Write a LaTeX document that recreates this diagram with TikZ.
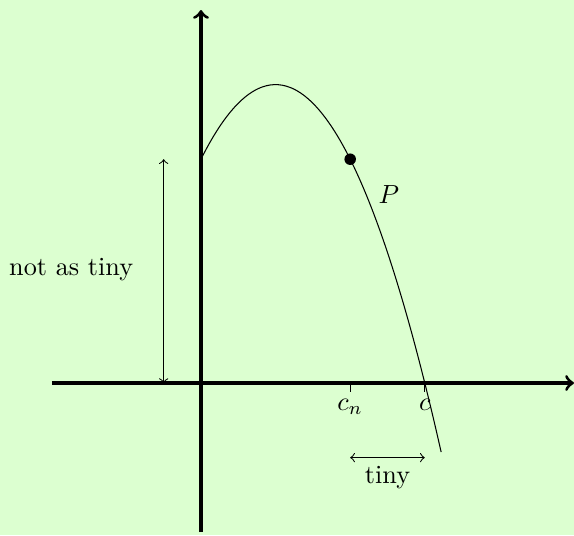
\documentclass[tikz,border=0pt]{standalone}
\definecolor{bgg}{RGB}{220,255,208}
\begin{document}
\begin{tikzpicture}[
  axis/.style={very thick,->},
  dimarrow/.style={<->},
  tick/.style={thin}
]
\useasboundingbox[fill=bgg] (-2.694,-2.0375) rectangle (5.0,5.134);
% axes
\coordinate (xl) at (-2,0);
\coordinate (xr) at (5,0);
\coordinate (yb) at (0,-2);
\coordinate (yt) at (0,5);
\draw[axis] (xl) -- (xr);
\draw[axis] (yb) -- (yt);
% curve
\draw[domain=0:3.22,samples=60,smooth] plot (\x,{4-(\x-1)*(\x-1)});
\coordinate (pt) at (2,3);
\fill (pt) circle (2.2pt);
\node (P) at (2.52,2.52) {$P$};
% ticks
\coordinate (cn) at (2,0);
\coordinate (c) at (3,0);
\draw[tick] (cn) -- ++(0,-0.12) node[below,inner sep=2.5pt] (cnl) {$c_n$};
\draw[tick] (c) -- ++(0,-0.12) node[below,inner sep=2.5pt] (cl) {$c$};
% tiny
\coordinate (ta) at (2,-1);
\coordinate (tb) at (3,-1);
\draw[dimarrow] (ta) -- (tb) node[midway,below,inner sep=3pt] (tl) {tiny};
% not as tiny
\coordinate (na) at (-0.5,0);
\coordinate (nb) at (-0.5,3);
\draw[dimarrow] (na) -- (nb);
\node (nl) at (-1.74,1.52) {not as tiny};
\end{tikzpicture}
\end{document}
